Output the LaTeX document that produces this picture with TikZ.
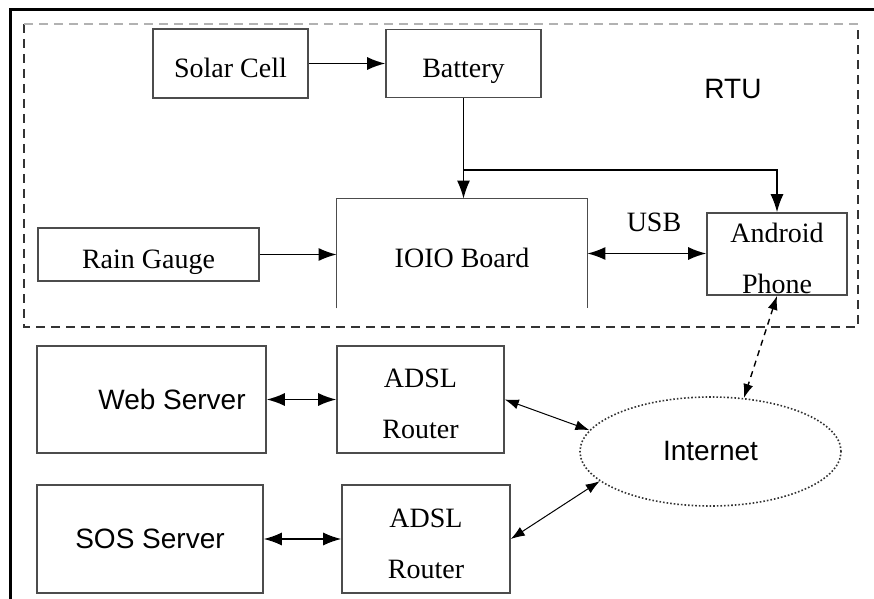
\documentclass[tikz,border=0pt]{standalone}
\usepackage{fontspec}
\setmainfont{Liberation Serif}
\setsansfont{Liberation Sans}
\usetikzlibrary{arrows.meta,shapes.geometric}

\begin{document}
\begin{tikzpicture}[x=0.5pt,y=-0.5pt,
        every node/.style={font=\fontsize{14}{25.5}\selectfont, inner sep=0pt},
        box/.style={draw=black!70, line width=0.8pt, align=center},
        one/.style={text height=14pt, text depth=0pt},
        two/.style={text height=39pt, text depth=0pt},
        sf/.style={font=\fontsize{14}{16}\selectfont\sffamily},
        arr/.style={-{Latex[length=9pt,width=6.5pt]}, line width=0.7pt},
        darr/.style={{Latex[length=9pt,width=6.5pt]}-{Latex[length=9pt,width=6.5pt]}, line width=0.7pt},
        tarr/.style={{Latex[length=7pt,width=5pt]}-{Latex[length=7pt,width=5pt]}, line width=0.5pt},
        rtu/.style={dash pattern=on 4.5pt off 3pt, line width=1pt}]
        \useasboundingbox (0,0) rectangle (874,599);
        \draw[line width=1.5pt] (10,599) -- (10,10) -- (874,10);

        \draw[rtu, black!80] (24,24) |- (858,327) -- (858,24);
        \draw[rtu, black!30] (24,24) -- (858,24);
        \node (rtu) at (733,89) [sf] {RTU};

        \node[box, one, minimum width=77.5pt, minimum height=34.5pt] (solar) at (230.5,63.5) {Solar Cell};
        \node[box, one, minimum width=77.5pt, minimum height=34pt] (battery) at (463.5,63.5) {Battery};
        \node[box, one, minimum width=110.5pt, minimum height=26.5pt] (rain) at (148.5,254.5) {Rain Gauge};
        \node[one, minimum width=125pt, minimum height=54.5pt] (ioio) at (462,253.5) {IOIO Board};
        \draw[black!70, line width=0.8pt] (ioio.south west) |- (ioio.north east) -- (ioio.south east);
        \node[box, two, minimum width=70pt, minimum height=41pt] (android) at (777,254) {Android\\Phone};
        \node (usb) at (654,222) {USB};

        \node[box, sf, minimum width=114.5pt, minimum height=53.5pt] (web) at (151.5,399.5) {\hspace*{20.5pt}Web Server};
        \node[box, two, minimum width=83.5pt, minimum height=53.5pt] (router1) at (420.5,399.5) {ADSL\\Router};
        \node[box, sf, minimum width=113pt, minimum height=54pt] (sos) at (150,539) {SOS Server};
        \node[box, two, minimum width=84pt, minimum height=54pt] (router2) at (426,539) {ADSL\\Router};
        \node[ellipse, draw=black!80, densely dotted, line width=0.8pt, sf,
            minimum width=130.5pt, minimum height=54.5pt] (net) at (710.5,451.5) {Internet};

        \coordinate (split) at (battery.south |- 0,170);
        \draw[arr] (solar) -- (battery);
        \draw[arr] (battery.south) -- (battery.south |- ioio.north);
        \draw[arr] (split) -| (android.north);
        \draw[arr] (rain.east) -- (rain.east -| ioio.west);
        \draw[darr] (ioio.east) -- (ioio.east -| android.west);
        \draw[tarr, dash pattern=on 3pt off 2.5pt, line width=0.7pt] (android.south) -- (net.58);
        \draw[darr] (web) -- (router1);
        \draw[darr] (sos) -- (router2);
        \draw[tarr] (router1.east) -- (net.170);
        \draw[tarr] (router2.east) -- (net.195);
    \end{tikzpicture}
\end{document}
